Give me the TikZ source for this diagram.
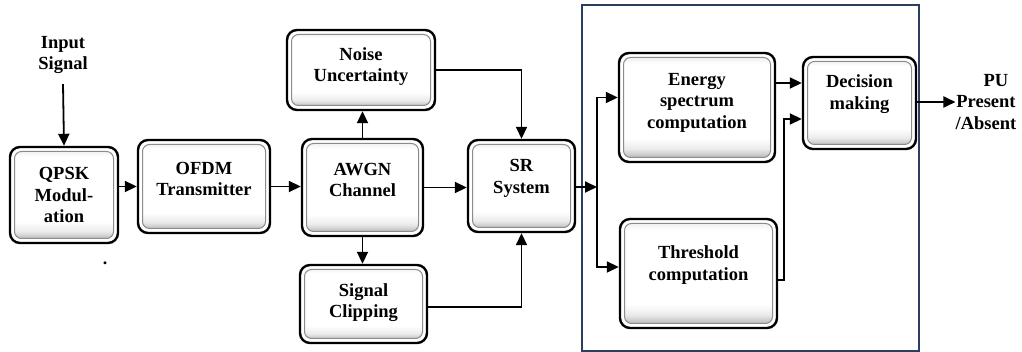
\documentclass[tikz,border=0pt]{standalone}
\usepackage{fontspec}
\setmainfont{Liberation Serif}
\usetikzlibrary{arrows.meta,calc}
\definecolor{framecol}{RGB}{44,62,96}
\pgfdeclareverticalshading{bevel}{100bp}{color(0bp)=(black!38); color(25bp)=(black!38); color(31bp)=(black!8); color(36bp)=(white); color(70bp)=(white); color(75bp)=(black!10); color(100bp)=(black!10)}
\tikzset{
  blk/.style={draw=black, line width=2.4pt, rounded corners=10pt, fill=white, inner sep=0pt,
    path picture={
      \shade[shading=bevel, draw=black!45, line width=1pt, rounded corners=7pt]
        ([shift={(4.5pt,4.5pt)}]path picture bounding box.south west) rectangle
        ([shift={(-4.5pt,-4.5pt)}]path picture bounding box.north east);
    }},
  txt/.style={align=center, inner sep=0pt, font=\bfseries\fontsize{18.5}{21.5}\selectfont},
  arr/.style={line width=1.8pt, -{Triangle[length=12pt,width=11pt]}}
}
\begin{document}
\begin{tikzpicture}[x=1pt,y=-1pt]
\useasboundingbox (0,0) rectangle (1022,352);
% frame
\draw[framecol, line width=1.3pt] (582,5) rectangle (919,351);
% boxes
\node[blk, minimum width=108pt, minimum height=96pt] (qpsk) at (64,195) {};
\node[blk, minimum width=132pt, minimum height=93pt] (ofdm) at (204,186.5) {};
\node[blk, minimum width=121pt, minimum height=97pt] (awgn) at (362.5,187.5) {};
\node[blk, minimum width=148pt, minimum height=80pt] (noise) at (361,70) {};
\node[blk, minimum width=127pt, minimum height=78pt] (clip) at (363.5,304) {};
\node[blk, minimum width=107pt, minimum height=92pt] (sr) at (521.5,186) {};
\node[blk, minimum width=156pt, minimum height=109pt] (energy) at (697,107.5) {};
\node[blk, minimum width=157pt, minimum height=109pt] (thr) at (698.5,273.5) {};
\node[blk, minimum width=113pt, minimum height=92pt] (dec) at (859.5,103) {};
% texts
\node[txt] (qpskT) at (64,195) {QPSK\\Modul-\\ation};
\node[txt] (ofdmT) at (204,179) {OFDM\\Transmitter};
\node[txt] (awgnT) at (362.5,180) {AWGN\\Channel};
\node[txt] (noiseT) at (361,66.5) {Noise\\Uncertainty};
\node[txt] (clipT) at (363.5,302.5) {Signal\\Clipping};
\node[txt] (srT) at (521.5,178.5) {SR\\System};
\node[txt] (energyT) at (697,102.5) {Energy\\spectrum\\computation};
\node[txt] (thrT) at (698.5,265) {Threshold\\computation};
\node[txt] (decT) at (859.5,94) {Decision\\making};
\node[txt] (inputT) at (63,55) {Input\\Signal};
\node[txt] (puT) at (986,102) {\hspace*{20pt}PU\\Present\\/Absent};
\node[inner sep=0pt, font=\bfseries\fontsize{18}{21.5}\selectfont] (dot) at (105,263) {.};
% coordinates
\coordinate (split) at (597,187);
\coordinate (d1) at ([yshift=20pt]dec.west);
\coordinate (d2) at ([yshift=-16pt]dec.west);
% connectors
\draw[arr] ([yshift=-10pt]inputT.south) -- (qpsk.north);
\draw[arr] (qpsk.east |- ofdm.west) -- (ofdm.west);
\draw[arr] (ofdm.east) -- (ofdm.east -| awgn.west);
\draw[arr] (awgn.east) -- (awgn.east -| sr.west);
\draw[arr] (awgn.north) -- (awgn.north |- noise.south);
\draw[arr] (noise.east) -| (sr.north);
\draw[arr] (awgn.south) -- (awgn.south |- clip.north);
\draw[arr] ([yshift=-3pt]clip.east) -| (sr.south);
\draw[arr] (sr.east |- split) -- (split);
\draw[arr] (split) |- ([yshift=10pt]energy.west);
\draw[arr] (split) |- ([yshift=6.5pt]thr.west);
\draw[arr] (energy.east |- d1) -- (d1);
\draw[arr] ([yshift=-6.5pt]thr.east) -- ++(6pt,0) |- (d2);
\draw[arr] (dec.east |- puT.west) -- (puT.west);
\end{tikzpicture}
\end{document}
